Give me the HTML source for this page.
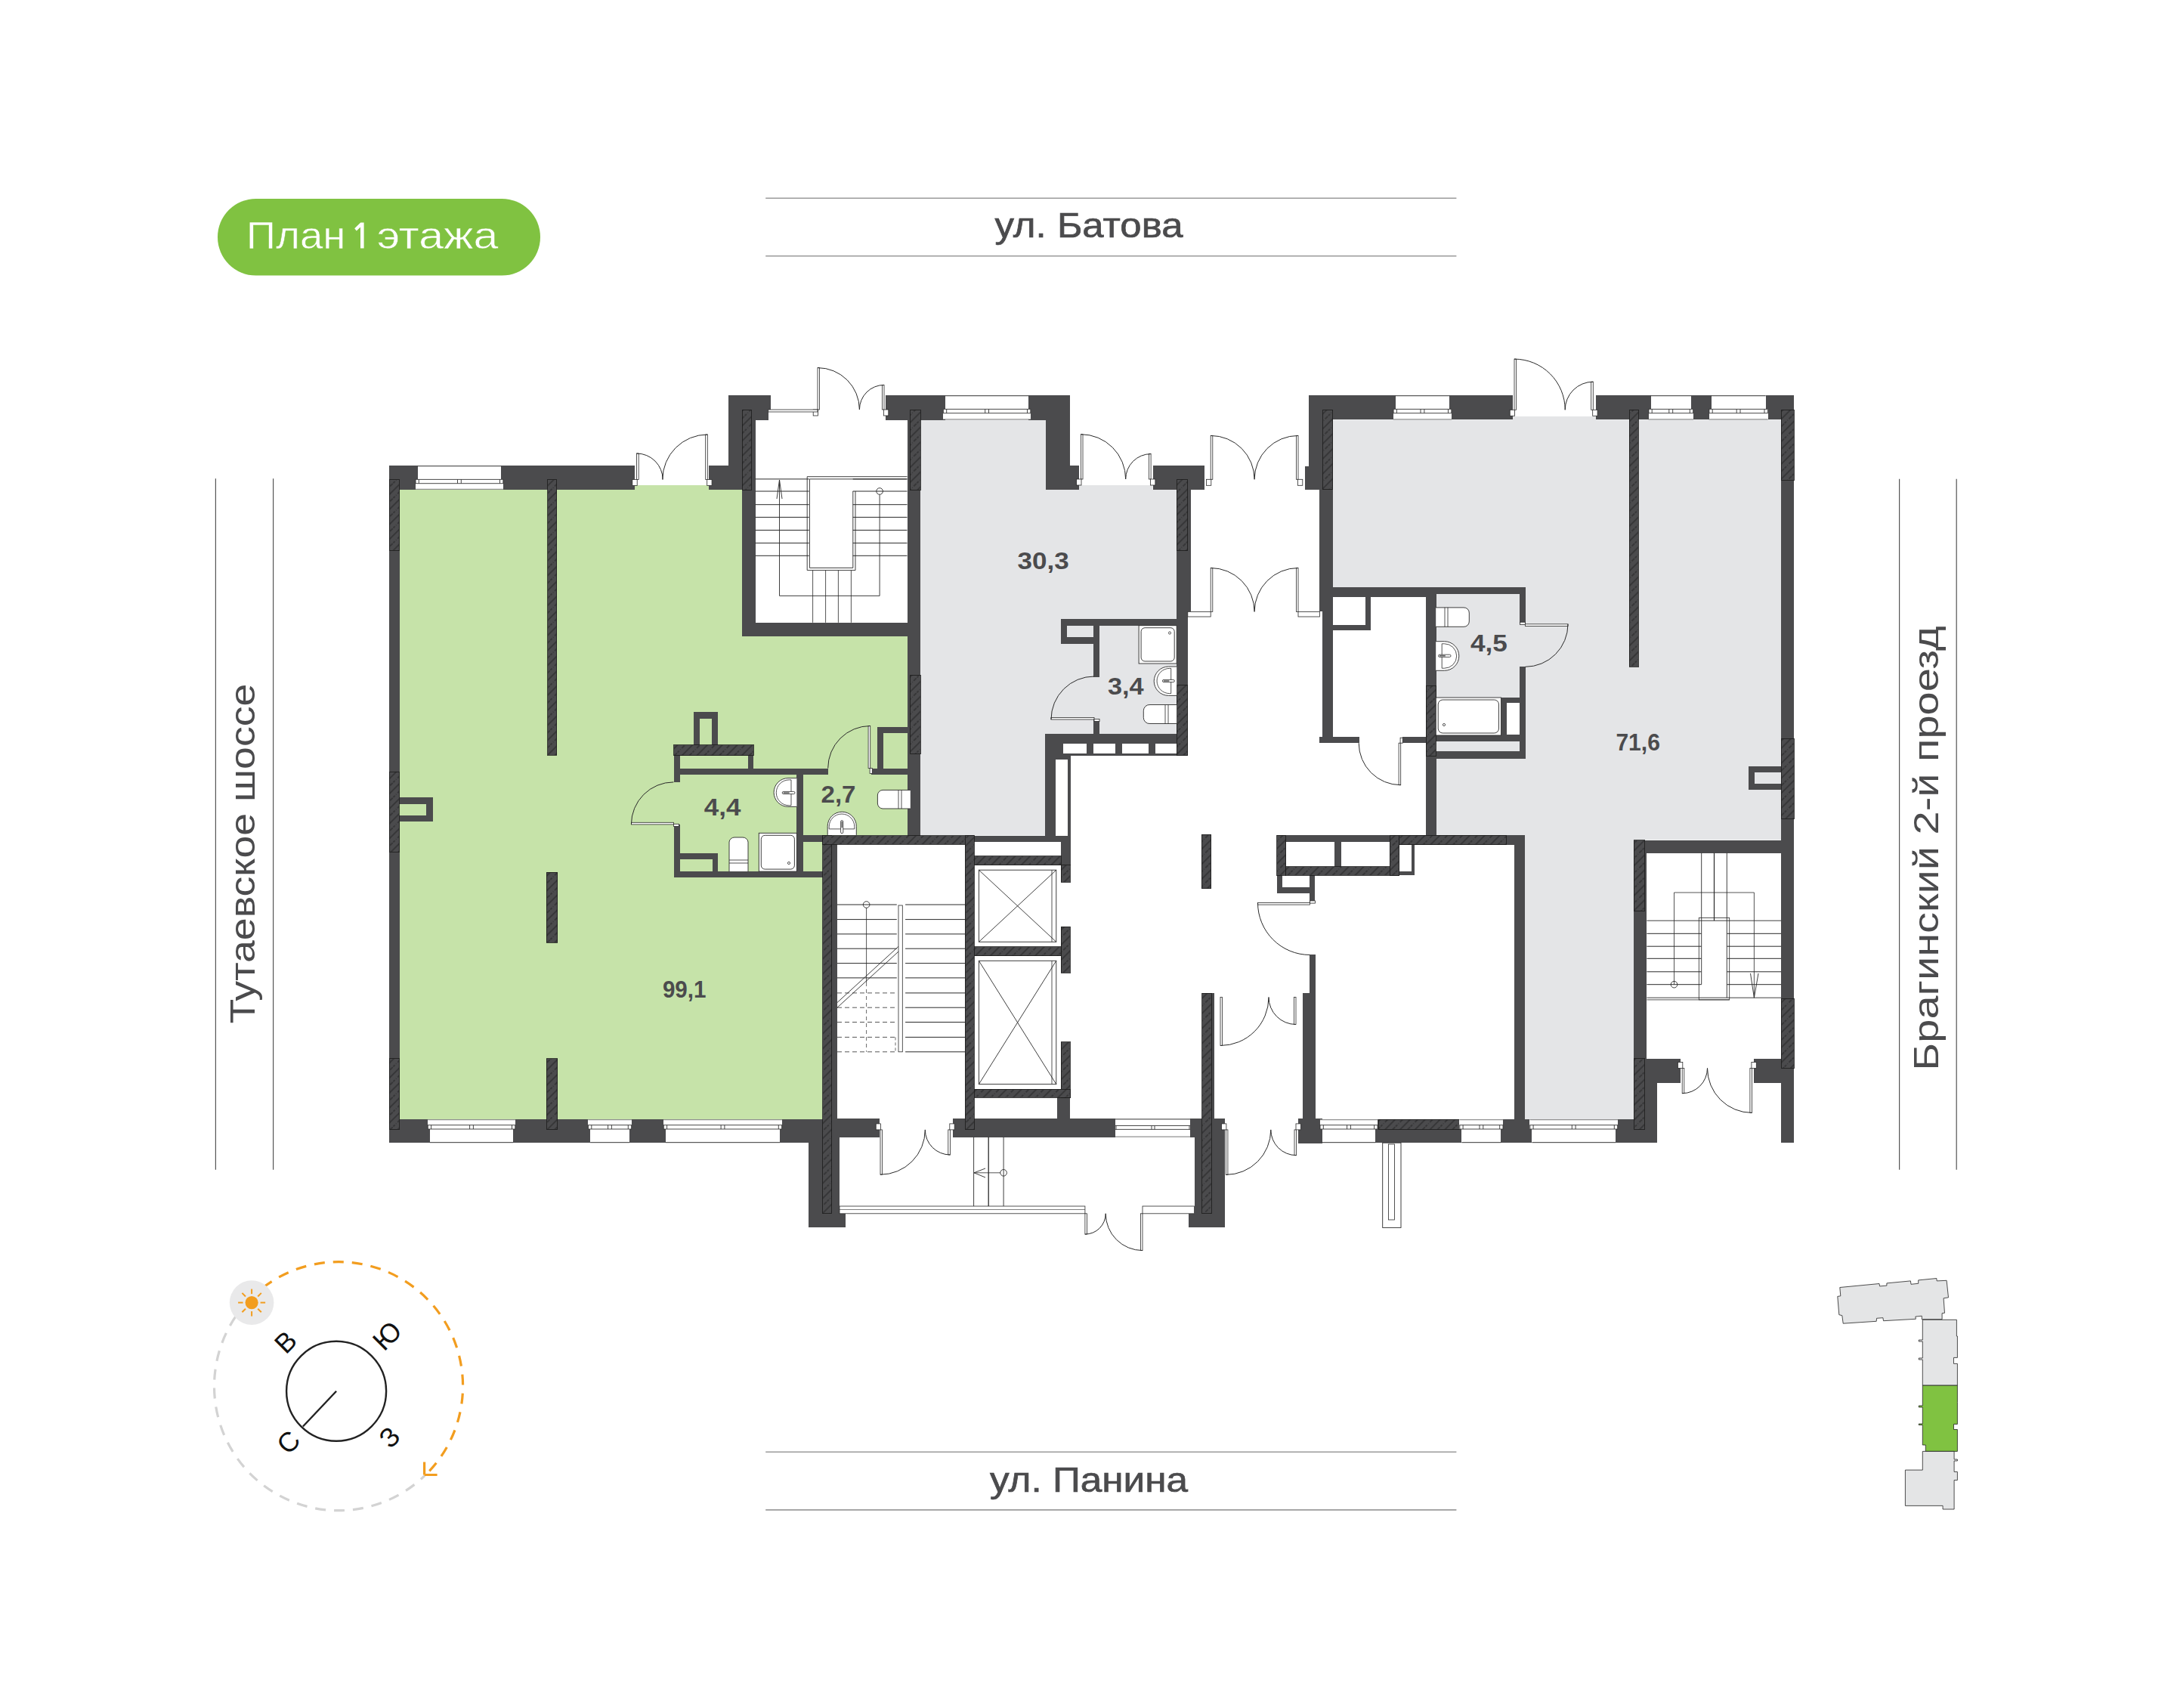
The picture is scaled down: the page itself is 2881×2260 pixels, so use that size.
<!DOCTYPE html>
<html><head><meta charset="utf-8"><title>План 1 этажа</title>
<style>html,body{margin:0;padding:0;background:#fff;}body{width:2881px;height:2260px;overflow:hidden;font-family:"Liberation Sans",sans-serif;}svg{display:block;}</style>
</head><body>
<svg width="2881" height="2260" viewBox="0 0 2881 2260">
<defs><pattern id="h" width="14" height="14" patternUnits="userSpaceOnUse" patternTransform="rotate(45)"><rect width="14" height="14" fill="#4b4b4d"/><line x1="1" y1="0" x2="1" y2="14" stroke="#181818" stroke-width="0.8"/><line x1="8" y1="1" x2="8" y2="14" stroke="#181818" stroke-width="0.8" stroke-dasharray="5,2,0.8,2"/></pattern></defs>
<rect width="2881" height="2260" fill="#fff"/>
<polygon points="528.4,648 840,648 840,642 938,642 938,648 982.4,648 982.4,841.7 1204.6,841.7 1204.6,1105.5 1088.6,1105.5 1088.6,1481.2 528.4,1481.2" fill="#c6e3a9"/>
<polygon points="1218,555.6 1384,555.6 1384,648 1428,648 1428,642 1525.5,642 1525.5,648 1557.2,648 1557.2,971 1383.3,971 1383.3,1105.5 1218,1105.5" fill="#e4e5e7"/>
<polygon points="1763.6,555.2 2001.7,555.2 2001.7,551 2112.2,551 2112.2,555.2 2357.4,555.2 2357.4,1111.6 2162,1111.6 2162,1481 2017.8,1481 2017.8,1105.3 1900.5,1105.3 1900.5,777 1763.6,777" fill="#e4e5e7"/>
<rect x="515" y="616" width="37.6" height="32" fill="#4b4b4d" shape-rendering="crispEdges"/>
<rect x="663.2" y="616" width="177.2" height="32" fill="#4b4b4d" shape-rendering="crispEdges"/>
<rect x="515" y="616" width="14" height="896.4" fill="#4b4b4d" shape-rendering="crispEdges"/>
<rect x="938.3" y="616" width="44.1" height="32" fill="#4b4b4d" shape-rendering="crispEdges"/>
<rect x="963.9" y="523" width="18.5" height="125" fill="#4b4b4d" shape-rendering="crispEdges"/>
<rect x="963.9" y="523" width="56.5" height="19" fill="#4b4b4d" shape-rendering="crispEdges"/>
<rect x="963.9" y="542" width="52.9" height="13.6" fill="#4b4b4d" shape-rendering="crispEdges"/>
<rect x="982.4" y="542" width="17.1" height="299.7" fill="#4b4b4d" shape-rendering="crispEdges"/>
<rect x="982.4" y="823.8" width="235.6" height="17.9" fill="#4b4b4d" shape-rendering="crispEdges"/>
<rect x="1201" y="542" width="17" height="563.5" fill="#4b4b4d" shape-rendering="crispEdges"/>
<rect x="1172.2" y="523" width="78.8" height="32.6" fill="#4b4b4d" shape-rendering="crispEdges"/>
<rect x="1361.2" y="523" width="55" height="32.6" fill="#4b4b4d" shape-rendering="crispEdges"/>
<rect x="1384" y="523" width="32.2" height="125" fill="#4b4b4d" shape-rendering="crispEdges"/>
<rect x="1416.2" y="616.2" width="11.8" height="31.8" fill="#4b4b4d" shape-rendering="crispEdges"/>
<rect x="1525.5" y="616.2" width="68.6" height="31.8" fill="#4b4b4d" shape-rendering="crispEdges"/>
<rect x="1557.2" y="616.2" width="14.6" height="383.8" fill="#4b4b4d" shape-rendering="crispEdges"/>
<rect x="1571" y="648" width="4.5" height="161.4" fill="#4b4b4d" shape-rendering="crispEdges"/>
<rect x="1383.3" y="971" width="188.5" height="29" fill="#4b4b4d" shape-rendering="crispEdges"/>
<rect x="1383.3" y="971" width="33.7" height="134.5" fill="#4b4b4d" shape-rendering="crispEdges"/>
<rect x="1406.8" y="983.8" width="31.2" height="12.9" fill="#fff" shape-rendering="crispEdges"/>
<rect x="1446.7" y="983.8" width="29.3" height="12.9" fill="#fff" shape-rendering="crispEdges"/>
<rect x="1484.7" y="983.8" width="34.8" height="12.9" fill="#fff" shape-rendering="crispEdges"/>
<rect x="1528.8" y="983.8" width="28.3" height="12.9" fill="#fff" shape-rendering="crispEdges"/>
<rect x="1397.1" y="1004.7" width="16.1" height="100.8" fill="#fff" shape-rendering="crispEdges"/>
<rect x="1404.2" y="819.3" width="153" height="8.4" fill="#4b4b4d" shape-rendering="crispEdges"/>
<rect x="1404.2" y="819.3" width="51.2" height="32.4" fill="#4b4b4d" shape-rendering="crispEdges"/>
<rect x="1412.3" y="827.7" width="35" height="15.3" fill="#e4e5e7" shape-rendering="crispEdges"/>
<rect x="1447.3" y="819.3" width="8.1" height="76.2" fill="#4b4b4d" shape-rendering="crispEdges"/>
<rect x="1447.3" y="952.1" width="8.1" height="18.9" fill="#4b4b4d" shape-rendering="crispEdges"/>
<rect x="918.3" y="942.2" width="32.1" height="43.4" fill="#4b4b4d" shape-rendering="crispEdges"/>
<rect x="926.3" y="950.5" width="16.1" height="35.1" fill="#c6e3a9" shape-rendering="crispEdges"/>
<rect x="891.6" y="999.6" width="8" height="35.4" fill="#4b4b4d" shape-rendering="crispEdges"/>
<rect x="989.6" y="999.6" width="7.8" height="16.9" fill="#4b4b4d" shape-rendering="crispEdges"/>
<rect x="891.6" y="1016.5" width="204.6" height="8" fill="#4b4b4d" shape-rendering="crispEdges"/>
<rect x="1153.3" y="1016.5" width="51.5" height="8" fill="#4b4b4d" shape-rendering="crispEdges"/>
<rect x="1161.4" y="962.1" width="7.2" height="62.4" fill="#4b4b4d" shape-rendering="crispEdges"/>
<rect x="1161.4" y="962.1" width="43.4" height="7.9" fill="#4b4b4d" shape-rendering="crispEdges"/>
<rect x="1054.4" y="1024.5" width="8.1" height="136.7" fill="#4b4b4d" shape-rendering="crispEdges"/>
<rect x="891.6" y="1091" width="8" height="70.2" fill="#4b4b4d" shape-rendering="crispEdges"/>
<rect x="891.6" y="1153.1" width="197.4" height="8.1" fill="#4b4b4d" shape-rendering="crispEdges"/>
<rect x="891.6" y="1129" width="58.8" height="8" fill="#4b4b4d" shape-rendering="crispEdges"/>
<rect x="942.7" y="1129" width="7.7" height="32.2" fill="#4b4b4d" shape-rendering="crispEdges"/>
<rect x="1062.5" y="1104.9" width="26.5" height="8.8" fill="#4b4b4d" shape-rendering="crispEdges"/>
<rect x="528.4" y="1055" width="44.1" height="31.7" fill="#4b4b4d" shape-rendering="crispEdges"/>
<rect x="528.4" y="1063.8" width="35.8" height="14.7" fill="#c6e3a9" shape-rendering="crispEdges"/>
<rect x="515" y="1481.2" width="573.6" height="31.2" fill="#4b4b4d" shape-rendering="crispEdges"/>
<rect x="1070.3" y="1481" width="40.7" height="143.4" fill="#4b4b4d" shape-rendering="crispEdges"/>
<rect x="1088.6" y="1105.5" width="19.4" height="375.5" fill="#4b4b4d" shape-rendering="crispEdges"/>
<rect x="1288.3" y="1105.5" width="128.7" height="8.7" fill="#4b4b4d" shape-rendering="crispEdges"/>
<rect x="1289" y="1114.2" width="119" height="18.7" fill="#fff" shape-rendering="crispEdges"/>
<rect x="1404.2" y="1105.5" width="12.8" height="39.3" fill="#4b4b4d" shape-rendering="crispEdges"/>
<rect x="1404.2" y="1167.3" width="12.2" height="59" fill="#fff" shape-rendering="crispEdges"/>
<rect x="1404.2" y="1287.4" width="12.2" height="91.5" fill="#fff" shape-rendering="crispEdges"/>
<rect x="1399.4" y="1452.3" width="17" height="29" fill="#4b4b4d" shape-rendering="crispEdges"/>
<rect x="1108" y="1480.4" width="56" height="24.1" fill="#4b4b4d" shape-rendering="crispEdges"/>
<rect x="1260.6" y="1480.4" width="215.4" height="24.1" fill="#4b4b4d" shape-rendering="crispEdges"/>
<rect x="1575" y="1480.4" width="45.7" height="24.1" fill="#4b4b4d" shape-rendering="crispEdges"/>
<rect x="1580.5" y="1480.4" width="40.2" height="144" fill="#4b4b4d" shape-rendering="crispEdges"/>
<rect x="1572.5" y="1605.8" width="48.2" height="18.6" fill="#4b4b4d" shape-rendering="crispEdges"/>
<rect x="1070.3" y="1605.8" width="48.8" height="18.6" fill="#4b4b4d" shape-rendering="crispEdges"/>
<rect x="1590.5" y="1314" width="16.2" height="310.4" fill="#4b4b4d" shape-rendering="crispEdges"/>
<rect x="1724.6" y="1314" width="16" height="166.3" fill="#4b4b4d" shape-rendering="crispEdges"/>
<rect x="1733.5" y="1263.4" width="7.1" height="50.6" fill="#4b4b4d" shape-rendering="crispEdges"/>
<rect x="1718" y="1480.3" width="31.5" height="32.2" fill="#4b4b4d" shape-rendering="crispEdges"/>
<rect x="1689.5" y="1105.3" width="328.3" height="12.2" fill="#4b4b4d" shape-rendering="crispEdges"/>
<rect x="1689.5" y="1105.3" width="182.9" height="52.8" fill="#4b4b4d" shape-rendering="crispEdges"/>
<rect x="1701.6" y="1113.5" width="64.6" height="33.2" fill="#fff" shape-rendering="crispEdges"/>
<rect x="1774.7" y="1113.5" width="64.6" height="33.2" fill="#fff" shape-rendering="crispEdges"/>
<rect x="1851.8" y="1117.5" width="15.9" height="35.8" fill="#fff" shape-rendering="crispEdges"/>
<rect x="1689.5" y="1158" width="50.9" height="23.7" fill="#4b4b4d" shape-rendering="crispEdges"/>
<rect x="1697.2" y="1158" width="35.8" height="16.3" fill="#fff" shape-rendering="crispEdges"/>
<rect x="1733" y="1181.7" width="7.4" height="12.3" fill="#4b4b4d" shape-rendering="crispEdges"/>
<rect x="1733" y="1263" width="7.4" height="51" fill="#4b4b4d" shape-rendering="crispEdges"/>
<rect x="1723.8" y="1314" width="16.6" height="167" fill="#4b4b4d" shape-rendering="crispEdges"/>
<rect x="2004.2" y="1105.3" width="13.6" height="375.7" fill="#4b4b4d" shape-rendering="crispEdges"/>
<rect x="1719" y="1481" width="474.4" height="31.2" fill="#4b4b4d" shape-rendering="crispEdges"/>
<rect x="1887.2" y="777" width="13.7" height="340.5" fill="#4b4b4d" shape-rendering="crispEdges"/>
<rect x="1731.6" y="523.2" width="642.2" height="32" fill="#4b4b4d" shape-rendering="crispEdges"/>
<rect x="2001.7" y="523.2" width="110.5" height="28.1" fill="#fff" shape-rendering="crispEdges"/>
<rect x="2001.7" y="551.3" width="110.5" height="4" fill="#e4e5e7" shape-rendering="crispEdges"/>
<rect x="1726.5" y="616.5" width="19.9" height="31.5" fill="#4b4b4d" shape-rendering="crispEdges"/>
<rect x="1731.6" y="523.2" width="14.8" height="124.8" fill="#4b4b4d" shape-rendering="crispEdges"/>
<rect x="1746.4" y="542" width="17.2" height="267.4" fill="#4b4b4d" shape-rendering="crispEdges"/>
<rect x="1749.6" y="809.4" width="14" height="173.6" fill="#4b4b4d" shape-rendering="crispEdges"/>
<rect x="2357.4" y="523.2" width="16.6" height="989" fill="#4b4b4d" shape-rendering="crispEdges"/>
<rect x="1746.4" y="777" width="272.1" height="8.5" fill="#4b4b4d" shape-rendering="crispEdges"/>
<rect x="1746.4" y="777" width="153.8" height="13.2" fill="#4b4b4d" shape-rendering="crispEdges"/>
<rect x="1763.6" y="785.5" width="50.7" height="48.8" fill="#4b4b4d" shape-rendering="crispEdges"/>
<rect x="1763.6" y="790.2" width="42.9" height="36.3" fill="#fff" shape-rendering="crispEdges"/>
<rect x="1746.4" y="975" width="52.3" height="8" fill="#4b4b4d" shape-rendering="crispEdges"/>
<rect x="1855.7" y="975" width="32" height="8" fill="#4b4b4d" shape-rendering="crispEdges"/>
<rect x="2010.7" y="777" width="7.8" height="47.6" fill="#4b4b4d" shape-rendering="crispEdges"/>
<rect x="2010.7" y="882" width="7.8" height="122.2" fill="#4b4b4d" shape-rendering="crispEdges"/>
<rect x="1900.2" y="973" width="110.5" height="7.8" fill="#4b4b4d" shape-rendering="crispEdges"/>
<rect x="1900.2" y="980.8" width="110.5" height="13.6" fill="#e4e5e7" shape-rendering="crispEdges"/>
<rect x="1900.2" y="994.4" width="118.3" height="9.8" fill="#4b4b4d" shape-rendering="crispEdges"/>
<rect x="1986.5" y="923" width="24.2" height="50" fill="#4b4b4d" shape-rendering="crispEdges"/>
<rect x="1994.3" y="930" width="16.4" height="41.8" fill="#fff" shape-rendering="crispEdges"/>
<rect x="2314" y="1014" width="43.4" height="31.2" fill="#4b4b4d" shape-rendering="crispEdges"/>
<rect x="2322" y="1021.8" width="35.4" height="15.6" fill="#e4e5e7" shape-rendering="crispEdges"/>
<rect x="2162" y="1111.6" width="17.4" height="400.6" fill="#4b4b4d" shape-rendering="crispEdges"/>
<rect x="2162" y="1111.6" width="195.2" height="17" fill="#4b4b4d" shape-rendering="crispEdges"/>
<rect x="2162" y="1400.5" width="61.7" height="32.1" fill="#4b4b4d" shape-rendering="crispEdges"/>
<rect x="2162" y="1432.6" width="31.4" height="79.6" fill="#4b4b4d" shape-rendering="crispEdges"/>
<rect x="2321.4" y="1400.5" width="35.8" height="32.1" fill="#4b4b4d" shape-rendering="crispEdges"/>
<rect x="515" y="634.5" width="13.4" height="93.5" fill="url(#h)" shape-rendering="crispEdges" stroke="#1a1a1a" stroke-width="0.8"/>
<rect x="515" y="1021.4" width="13.4" height="105.8" fill="url(#h)" shape-rendering="crispEdges" stroke="#1a1a1a" stroke-width="0.8"/>
<rect x="515" y="1400.5" width="13.4" height="93.7" fill="url(#h)" shape-rendering="crispEdges" stroke="#1a1a1a" stroke-width="0.8"/>
<rect x="982.4" y="542" width="11.6" height="106" fill="url(#h)" shape-rendering="crispEdges" stroke="#1a1a1a" stroke-width="0.8"/>
<rect x="1204.4" y="542" width="13.6" height="106" fill="url(#h)" shape-rendering="crispEdges" stroke="#1a1a1a" stroke-width="0.8"/>
<rect x="1204.4" y="893" width="13.6" height="104.7" fill="url(#h)" shape-rendering="crispEdges" stroke="#1a1a1a" stroke-width="0.8"/>
<rect x="1557.2" y="634.3" width="14.6" height="94.3" fill="url(#h)" shape-rendering="crispEdges" stroke="#1a1a1a" stroke-width="0.8"/>
<rect x="1557.2" y="906.4" width="14.6" height="93" fill="url(#h)" shape-rendering="crispEdges" stroke="#1a1a1a" stroke-width="0.8"/>
<rect x="891.6" y="985.6" width="105.8" height="14" fill="url(#h)" shape-rendering="crispEdges" stroke="#1a1a1a" stroke-width="0.8"/>
<rect x="724.6" y="634.5" width="11.9" height="364.8" fill="url(#h)" shape-rendering="crispEdges" stroke="#1a1a1a" stroke-width="0.8"/>
<rect x="723.3" y="1154.3" width="14.3" height="93.1" fill="url(#h)" shape-rendering="crispEdges" stroke="#1a1a1a" stroke-width="0.8"/>
<rect x="723.3" y="1400.5" width="14.3" height="93.7" fill="url(#h)" shape-rendering="crispEdges" stroke="#1a1a1a" stroke-width="0.8"/>
<rect x="1088.6" y="1105.5" width="11.9" height="500.3" fill="url(#h)" shape-rendering="crispEdges" stroke="#1a1a1a" stroke-width="0.8"/>
<rect x="1088.6" y="1105.5" width="199.7" height="11.9" fill="url(#h)" shape-rendering="crispEdges" stroke="#1a1a1a" stroke-width="0.8"/>
<rect x="1277" y="1105.5" width="12" height="388.5" fill="url(#h)" shape-rendering="crispEdges" stroke="#1a1a1a" stroke-width="0.8"/>
<rect x="1289" y="1132.9" width="115.2" height="11.9" fill="url(#h)" shape-rendering="crispEdges" stroke="#1a1a1a" stroke-width="0.8"/>
<rect x="1404.2" y="1144.8" width="12.2" height="22.5" fill="url(#h)" shape-rendering="crispEdges" stroke="#1a1a1a" stroke-width="0.8"/>
<rect x="1404.2" y="1226.3" width="12.2" height="61.1" fill="url(#h)" shape-rendering="crispEdges" stroke="#1a1a1a" stroke-width="0.8"/>
<rect x="1404.2" y="1378.9" width="12.2" height="73.4" fill="url(#h)" shape-rendering="crispEdges" stroke="#1a1a1a" stroke-width="0.8"/>
<rect x="1289" y="1252.7" width="115.2" height="12.2" fill="url(#h)" shape-rendering="crispEdges" stroke="#1a1a1a" stroke-width="0.8"/>
<rect x="1289" y="1441" width="127.4" height="11.3" fill="url(#h)" shape-rendering="crispEdges" stroke="#1a1a1a" stroke-width="0.8"/>
<rect x="1590.5" y="1314" width="12.5" height="291.8" fill="url(#h)" shape-rendering="crispEdges" stroke="#1a1a1a" stroke-width="0.8"/>
<rect x="1590.3" y="1104.3" width="12.4" height="71.4" fill="url(#h)" shape-rendering="crispEdges" stroke="#1a1a1a" stroke-width="0.8"/>
<rect x="1689.5" y="1105.3" width="12.1" height="52.8" fill="url(#h)" shape-rendering="crispEdges" stroke="#1a1a1a" stroke-width="0.8"/>
<rect x="1701.6" y="1146.7" width="150.2" height="11.4" fill="url(#h)" shape-rendering="crispEdges" stroke="#1a1a1a" stroke-width="0.8"/>
<rect x="1839.3" y="1105.3" width="12.5" height="52.8" fill="url(#h)" shape-rendering="crispEdges" stroke="#1a1a1a" stroke-width="0.8"/>
<rect x="1851.8" y="1105.3" width="141.2" height="12.2" fill="url(#h)" shape-rendering="crispEdges" stroke="#1a1a1a" stroke-width="0.8"/>
<rect x="1824" y="1481" width="107.5" height="13.5" fill="url(#h)" shape-rendering="crispEdges" stroke="#1a1a1a" stroke-width="0.8"/>
<rect x="1750" y="542.3" width="13.6" height="105.4" fill="url(#h)" shape-rendering="crispEdges" stroke="#1a1a1a" stroke-width="0.8"/>
<rect x="2357.4" y="542.3" width="16.6" height="92.7" fill="url(#h)" shape-rendering="crispEdges" stroke="#1a1a1a" stroke-width="0.8"/>
<rect x="2357.4" y="977" width="16.6" height="106" fill="url(#h)" shape-rendering="crispEdges" stroke="#1a1a1a" stroke-width="0.8"/>
<rect x="2357.4" y="1321" width="16.6" height="92.4" fill="url(#h)" shape-rendering="crispEdges" stroke="#1a1a1a" stroke-width="0.8"/>
<rect x="2156" y="542.3" width="12" height="339.7" fill="url(#h)" shape-rendering="crispEdges" stroke="#1a1a1a" stroke-width="0.8"/>
<rect x="1887.7" y="907" width="12.5" height="93" fill="url(#h)" shape-rendering="crispEdges" stroke="#1a1a1a" stroke-width="0.8"/>
<rect x="2162" y="1111.6" width="14" height="93.4" fill="url(#h)" shape-rendering="crispEdges" stroke="#1a1a1a" stroke-width="0.8"/>
<rect x="2162" y="1400.5" width="14" height="94" fill="url(#h)" shape-rendering="crispEdges" stroke="#1a1a1a" stroke-width="0.8"/>
<rect x="552.6" y="616.2" width="110.6" height="18.2" fill="#fff" shape-rendering="crispEdges"/>
<rect x="549.6" y="634.4" width="116.6" height="13.4" fill="#fff" shape-rendering="crispEdges"/>
<line x1="552.6" y1="616.7" x2="663.2" y2="616.7" stroke="#333" stroke-width="1"/>
<line x1="549.6" y1="634.4" x2="666.2" y2="634.4" stroke="#333" stroke-width="0.9"/>
<line x1="549.6" y1="639.7" x2="666.2" y2="639.7" stroke="#333" stroke-width="0.9"/>
<line x1="549.6" y1="647.3" x2="666.2" y2="647.3" stroke="#666" stroke-width="0.9"/>
<line x1="550" y1="634.4" x2="550" y2="639.7" stroke="#333" stroke-width="0.9"/>
<line x1="554.3" y1="634.4" x2="554.3" y2="639.7" stroke="#333" stroke-width="0.9"/>
<line x1="605.5" y1="634.4" x2="605.5" y2="639.7" stroke="#333" stroke-width="0.9"/>
<line x1="610.3" y1="634.4" x2="610.3" y2="639.7" stroke="#333" stroke-width="0.9"/>
<line x1="661.5" y1="634.4" x2="661.5" y2="639.7" stroke="#333" stroke-width="0.9"/>
<line x1="665.8" y1="634.4" x2="665.8" y2="639.7" stroke="#333" stroke-width="0.9"/>
<rect x="1251" y="523.2" width="110.2" height="18.2" fill="#fff" shape-rendering="crispEdges"/>
<rect x="1248" y="541.4" width="116.2" height="14" fill="#fff" shape-rendering="crispEdges"/>
<line x1="1251" y1="523.7" x2="1361.2" y2="523.7" stroke="#333" stroke-width="1"/>
<line x1="1248" y1="541.4" x2="1364.2" y2="541.4" stroke="#333" stroke-width="0.9"/>
<line x1="1248" y1="546.7" x2="1364.2" y2="546.7" stroke="#333" stroke-width="0.9"/>
<line x1="1248" y1="554.9" x2="1364.2" y2="554.9" stroke="#666" stroke-width="0.9"/>
<line x1="1248.4" y1="541.4" x2="1248.4" y2="546.7" stroke="#333" stroke-width="0.9"/>
<line x1="1252.7" y1="541.4" x2="1252.7" y2="546.7" stroke="#333" stroke-width="0.9"/>
<line x1="1303.7" y1="541.4" x2="1303.7" y2="546.7" stroke="#333" stroke-width="0.9"/>
<line x1="1308.5" y1="541.4" x2="1308.5" y2="546.7" stroke="#333" stroke-width="0.9"/>
<line x1="1359.5" y1="541.4" x2="1359.5" y2="546.7" stroke="#333" stroke-width="0.9"/>
<line x1="1363.8" y1="541.4" x2="1363.8" y2="546.7" stroke="#333" stroke-width="0.9"/>
<rect x="1846.7" y="523.2" width="71.5" height="18.2" fill="#fff" shape-rendering="crispEdges"/>
<rect x="1843.7" y="541.4" width="77.5" height="14" fill="#fff" shape-rendering="crispEdges"/>
<line x1="1846.7" y1="523.7" x2="1918.2" y2="523.7" stroke="#333" stroke-width="1"/>
<line x1="1843.7" y1="541.4" x2="1921.2" y2="541.4" stroke="#333" stroke-width="0.9"/>
<line x1="1843.7" y1="546.7" x2="1921.2" y2="546.7" stroke="#333" stroke-width="0.9"/>
<line x1="1843.7" y1="554.9" x2="1921.2" y2="554.9" stroke="#666" stroke-width="0.9"/>
<line x1="1844.1" y1="541.4" x2="1844.1" y2="546.7" stroke="#333" stroke-width="0.9"/>
<line x1="1848.4" y1="541.4" x2="1848.4" y2="546.7" stroke="#333" stroke-width="0.9"/>
<line x1="1880" y1="541.4" x2="1880" y2="546.7" stroke="#333" stroke-width="0.9"/>
<line x1="1884.9" y1="541.4" x2="1884.9" y2="546.7" stroke="#333" stroke-width="0.9"/>
<line x1="1916.5" y1="541.4" x2="1916.5" y2="546.7" stroke="#333" stroke-width="0.9"/>
<line x1="1920.8" y1="541.4" x2="1920.8" y2="546.7" stroke="#333" stroke-width="0.9"/>
<rect x="2184.5" y="523.2" width="53.5" height="18.2" fill="#fff" shape-rendering="crispEdges"/>
<rect x="2181.5" y="541.4" width="59.5" height="14" fill="#fff" shape-rendering="crispEdges"/>
<line x1="2184.5" y1="523.7" x2="2238" y2="523.7" stroke="#333" stroke-width="1"/>
<line x1="2181.5" y1="541.4" x2="2241" y2="541.4" stroke="#333" stroke-width="0.9"/>
<line x1="2181.5" y1="546.7" x2="2241" y2="546.7" stroke="#333" stroke-width="0.9"/>
<line x1="2181.5" y1="554.9" x2="2241" y2="554.9" stroke="#666" stroke-width="0.9"/>
<line x1="2181.9" y1="541.4" x2="2181.9" y2="546.7" stroke="#333" stroke-width="0.9"/>
<line x1="2186.2" y1="541.4" x2="2186.2" y2="546.7" stroke="#333" stroke-width="0.9"/>
<line x1="2208.8" y1="541.4" x2="2208.8" y2="546.7" stroke="#333" stroke-width="0.9"/>
<line x1="2213.7" y1="541.4" x2="2213.7" y2="546.7" stroke="#333" stroke-width="0.9"/>
<line x1="2236.3" y1="541.4" x2="2236.3" y2="546.7" stroke="#333" stroke-width="0.9"/>
<line x1="2240.6" y1="541.4" x2="2240.6" y2="546.7" stroke="#333" stroke-width="0.9"/>
<rect x="2264.5" y="523.2" width="72.2" height="18.2" fill="#fff" shape-rendering="crispEdges"/>
<rect x="2261.5" y="541.4" width="78.2" height="14" fill="#fff" shape-rendering="crispEdges"/>
<line x1="2264.5" y1="523.7" x2="2336.7" y2="523.7" stroke="#333" stroke-width="1"/>
<line x1="2261.5" y1="541.4" x2="2339.7" y2="541.4" stroke="#333" stroke-width="0.9"/>
<line x1="2261.5" y1="546.7" x2="2339.7" y2="546.7" stroke="#333" stroke-width="0.9"/>
<line x1="2261.5" y1="554.9" x2="2339.7" y2="554.9" stroke="#666" stroke-width="0.9"/>
<line x1="2261.9" y1="541.4" x2="2261.9" y2="546.7" stroke="#333" stroke-width="0.9"/>
<line x1="2266.2" y1="541.4" x2="2266.2" y2="546.7" stroke="#333" stroke-width="0.9"/>
<line x1="2298.2" y1="541.4" x2="2298.2" y2="546.7" stroke="#333" stroke-width="0.9"/>
<line x1="2303" y1="541.4" x2="2303" y2="546.7" stroke="#333" stroke-width="0.9"/>
<line x1="2335" y1="541.4" x2="2335" y2="546.7" stroke="#333" stroke-width="0.9"/>
<line x1="2339.3" y1="541.4" x2="2339.3" y2="546.7" stroke="#333" stroke-width="0.9"/>
<rect x="568.9" y="1494" width="110.3" height="18.2" fill="#fff" shape-rendering="crispEdges"/>
<rect x="565.9" y="1481.2" width="116.3" height="12.8" fill="#fff" shape-rendering="crispEdges"/>
<line x1="568.9" y1="1511.7" x2="679.2" y2="1511.7" stroke="#333" stroke-width="1"/>
<line x1="565.9" y1="1494" x2="682.2" y2="1494" stroke="#333" stroke-width="0.9"/>
<line x1="565.9" y1="1488.7" x2="682.2" y2="1488.7" stroke="#333" stroke-width="0.9"/>
<line x1="565.9" y1="1481.7" x2="682.2" y2="1481.7" stroke="#666" stroke-width="0.9"/>
<line x1="566.3" y1="1494" x2="566.3" y2="1488.7" stroke="#333" stroke-width="0.9"/>
<line x1="570.6" y1="1494" x2="570.6" y2="1488.7" stroke="#333" stroke-width="0.9"/>
<line x1="621.6" y1="1494" x2="621.6" y2="1488.7" stroke="#333" stroke-width="0.9"/>
<line x1="626.4" y1="1494" x2="626.4" y2="1488.7" stroke="#333" stroke-width="0.9"/>
<line x1="677.5" y1="1494" x2="677.5" y2="1488.7" stroke="#333" stroke-width="0.9"/>
<line x1="681.8" y1="1494" x2="681.8" y2="1488.7" stroke="#333" stroke-width="0.9"/>
<rect x="781.1" y="1494" width="51.9" height="18.2" fill="#fff" shape-rendering="crispEdges"/>
<rect x="778.1" y="1481.2" width="57.9" height="12.8" fill="#fff" shape-rendering="crispEdges"/>
<line x1="781.1" y1="1511.7" x2="833" y2="1511.7" stroke="#333" stroke-width="1"/>
<line x1="778.1" y1="1494" x2="836" y2="1494" stroke="#333" stroke-width="0.9"/>
<line x1="778.1" y1="1488.7" x2="836" y2="1488.7" stroke="#333" stroke-width="0.9"/>
<line x1="778.1" y1="1481.7" x2="836" y2="1481.7" stroke="#666" stroke-width="0.9"/>
<line x1="778.5" y1="1494" x2="778.5" y2="1488.7" stroke="#333" stroke-width="0.9"/>
<line x1="782.8" y1="1494" x2="782.8" y2="1488.7" stroke="#333" stroke-width="0.9"/>
<line x1="804.6" y1="1494" x2="804.6" y2="1488.7" stroke="#333" stroke-width="0.9"/>
<line x1="809.4" y1="1494" x2="809.4" y2="1488.7" stroke="#333" stroke-width="0.9"/>
<line x1="831.3" y1="1494" x2="831.3" y2="1488.7" stroke="#333" stroke-width="0.9"/>
<line x1="835.6" y1="1494" x2="835.6" y2="1488.7" stroke="#333" stroke-width="0.9"/>
<rect x="880.9" y="1494" width="151.1" height="18.2" fill="#fff" shape-rendering="crispEdges"/>
<rect x="877.9" y="1481.2" width="157.1" height="12.8" fill="#fff" shape-rendering="crispEdges"/>
<line x1="880.9" y1="1511.7" x2="1032" y2="1511.7" stroke="#333" stroke-width="1"/>
<line x1="877.9" y1="1494" x2="1035" y2="1494" stroke="#333" stroke-width="0.9"/>
<line x1="877.9" y1="1488.7" x2="1035" y2="1488.7" stroke="#333" stroke-width="0.9"/>
<line x1="877.9" y1="1481.7" x2="1035" y2="1481.7" stroke="#666" stroke-width="0.9"/>
<line x1="878.3" y1="1494" x2="878.3" y2="1488.7" stroke="#333" stroke-width="0.9"/>
<line x1="882.6" y1="1494" x2="882.6" y2="1488.7" stroke="#333" stroke-width="0.9"/>
<line x1="954.1" y1="1494" x2="954.1" y2="1488.7" stroke="#333" stroke-width="0.9"/>
<line x1="958.9" y1="1494" x2="958.9" y2="1488.7" stroke="#333" stroke-width="0.9"/>
<line x1="1030.3" y1="1494" x2="1030.3" y2="1488.7" stroke="#333" stroke-width="0.9"/>
<line x1="1034.6" y1="1494" x2="1034.6" y2="1488.7" stroke="#333" stroke-width="0.9"/>
<rect x="1749.6" y="1494" width="70.8" height="18.2" fill="#fff" shape-rendering="crispEdges"/>
<rect x="1746.6" y="1481.2" width="76.8" height="12.8" fill="#fff" shape-rendering="crispEdges"/>
<line x1="1749.6" y1="1511.7" x2="1820.4" y2="1511.7" stroke="#333" stroke-width="1"/>
<line x1="1746.6" y1="1494" x2="1823.4" y2="1494" stroke="#333" stroke-width="0.9"/>
<line x1="1746.6" y1="1488.7" x2="1823.4" y2="1488.7" stroke="#333" stroke-width="0.9"/>
<line x1="1746.6" y1="1481.7" x2="1823.4" y2="1481.7" stroke="#666" stroke-width="0.9"/>
<line x1="1747" y1="1494" x2="1747" y2="1488.7" stroke="#333" stroke-width="0.9"/>
<line x1="1751.3" y1="1494" x2="1751.3" y2="1488.7" stroke="#333" stroke-width="0.9"/>
<line x1="1782.6" y1="1494" x2="1782.6" y2="1488.7" stroke="#333" stroke-width="0.9"/>
<line x1="1787.4" y1="1494" x2="1787.4" y2="1488.7" stroke="#333" stroke-width="0.9"/>
<line x1="1818.7" y1="1494" x2="1818.7" y2="1488.7" stroke="#333" stroke-width="0.9"/>
<line x1="1823" y1="1494" x2="1823" y2="1488.7" stroke="#333" stroke-width="0.9"/>
<rect x="1934.4" y="1494" width="52" height="18.2" fill="#fff" shape-rendering="crispEdges"/>
<rect x="1931.4" y="1481.2" width="58" height="12.8" fill="#fff" shape-rendering="crispEdges"/>
<line x1="1934.4" y1="1511.7" x2="1986.4" y2="1511.7" stroke="#333" stroke-width="1"/>
<line x1="1931.4" y1="1494" x2="1989.4" y2="1494" stroke="#333" stroke-width="0.9"/>
<line x1="1931.4" y1="1488.7" x2="1989.4" y2="1488.7" stroke="#333" stroke-width="0.9"/>
<line x1="1931.4" y1="1481.7" x2="1989.4" y2="1481.7" stroke="#666" stroke-width="0.9"/>
<line x1="1931.8" y1="1494" x2="1931.8" y2="1488.7" stroke="#333" stroke-width="0.9"/>
<line x1="1936.1" y1="1494" x2="1936.1" y2="1488.7" stroke="#333" stroke-width="0.9"/>
<line x1="1958" y1="1494" x2="1958" y2="1488.7" stroke="#333" stroke-width="0.9"/>
<line x1="1962.8" y1="1494" x2="1962.8" y2="1488.7" stroke="#333" stroke-width="0.9"/>
<line x1="1984.7" y1="1494" x2="1984.7" y2="1488.7" stroke="#333" stroke-width="0.9"/>
<line x1="1989" y1="1494" x2="1989" y2="1488.7" stroke="#333" stroke-width="0.9"/>
<rect x="2027.4" y="1494" width="110.6" height="18.2" fill="#fff" shape-rendering="crispEdges"/>
<rect x="2024.4" y="1481.2" width="116.6" height="12.8" fill="#fff" shape-rendering="crispEdges"/>
<line x1="2027.4" y1="1511.7" x2="2138" y2="1511.7" stroke="#333" stroke-width="1"/>
<line x1="2024.4" y1="1494" x2="2141" y2="1494" stroke="#333" stroke-width="0.9"/>
<line x1="2024.4" y1="1488.7" x2="2141" y2="1488.7" stroke="#333" stroke-width="0.9"/>
<line x1="2024.4" y1="1481.7" x2="2141" y2="1481.7" stroke="#666" stroke-width="0.9"/>
<line x1="2024.8" y1="1494" x2="2024.8" y2="1488.7" stroke="#333" stroke-width="0.9"/>
<line x1="2029.1" y1="1494" x2="2029.1" y2="1488.7" stroke="#333" stroke-width="0.9"/>
<line x1="2080.3" y1="1494" x2="2080.3" y2="1488.7" stroke="#333" stroke-width="0.9"/>
<line x1="2085.1" y1="1494" x2="2085.1" y2="1488.7" stroke="#333" stroke-width="0.9"/>
<line x1="2136.3" y1="1494" x2="2136.3" y2="1488.7" stroke="#333" stroke-width="0.9"/>
<line x1="2140.6" y1="1494" x2="2140.6" y2="1488.7" stroke="#333" stroke-width="0.9"/>
<rect x="1476" y="1480.4" width="99" height="24.1" fill="#fff" shape-rendering="crispEdges"/>
<line x1="1476" y1="1480.9" x2="1575" y2="1480.9" stroke="#333" stroke-width="1"/>
<line x1="1476" y1="1489.5" x2="1575" y2="1489.5" stroke="#333" stroke-width="0.9"/>
<line x1="1476" y1="1494.4" x2="1575" y2="1494.4" stroke="#333" stroke-width="0.9"/>
<line x1="1476" y1="1504.1" x2="1575" y2="1504.1" stroke="#666" stroke-width="0.9"/>
<line x1="1477" y1="1489.5" x2="1477" y2="1494.4" stroke="#333" stroke-width="0.9"/>
<line x1="1524" y1="1489.5" x2="1524" y2="1494.4" stroke="#333" stroke-width="0.9"/>
<line x1="1528" y1="1489.5" x2="1528" y2="1494.4" stroke="#333" stroke-width="0.9"/>
<line x1="1574" y1="1489.5" x2="1574" y2="1494.4" stroke="#333" stroke-width="0.9"/>
<rect x="842.6" y="600" width="2.6" height="34.5" fill="#fff" stroke="#2a2a2a" stroke-width="0.8"/>
<rect x="836.8" y="634.5" width="6.4" height="8" fill="#fff" stroke="#2a2a2a" stroke-width="0.8"/>
<path d="M842.6 600 A34.5 34.5 0 0 1 877.1 634.5" fill="none" stroke="#2a2a2a" stroke-width="1"/>
<rect x="933.7" y="575" width="2.6" height="59.5" fill="#fff" stroke="#2a2a2a" stroke-width="0.8"/>
<rect x="935.7" y="634.5" width="6.4" height="8" fill="#fff" stroke="#2a2a2a" stroke-width="0.8"/>
<path d="M936.3 575 A59.5 59.5 0 0 0 876.8 634.5" fill="none" stroke="#2a2a2a" stroke-width="1"/>
<rect x="1082" y="486.6" width="2.6" height="55.4" fill="#fff" stroke="#2a2a2a" stroke-width="0.8"/>
<rect x="1076.2" y="542" width="6.4" height="8" fill="#fff" stroke="#2a2a2a" stroke-width="0.8"/>
<path d="M1082 486.6 A55.4 55.4 0 0 1 1137.4 542" fill="none" stroke="#2a2a2a" stroke-width="1"/>
<rect x="1167.4" y="509.4" width="2.6" height="32.6" fill="#fff" stroke="#2a2a2a" stroke-width="0.8"/>
<rect x="1169.4" y="542" width="6.4" height="8" fill="#fff" stroke="#2a2a2a" stroke-width="0.8"/>
<path d="M1170 509.4 A32.6 32.6 0 0 0 1137.4 542" fill="none" stroke="#2a2a2a" stroke-width="1"/>
<rect x="1016.7" y="542" width="65.3" height="3" fill="#fff" stroke="#2a2a2a" stroke-width="0.8"/>
<rect x="1430.4" y="574.7" width="2.6" height="59.3" fill="#fff" stroke="#2a2a2a" stroke-width="0.8"/>
<rect x="1424.6" y="634" width="6.4" height="8" fill="#fff" stroke="#2a2a2a" stroke-width="0.8"/>
<path d="M1430.4 574.7 A59.3 59.3 0 0 1 1489.7 634" fill="none" stroke="#2a2a2a" stroke-width="1"/>
<rect x="1520.5" y="600.6" width="2.6" height="33.4" fill="#fff" stroke="#2a2a2a" stroke-width="0.8"/>
<rect x="1522.5" y="634" width="6.4" height="8" fill="#fff" stroke="#2a2a2a" stroke-width="0.8"/>
<path d="M1523.1 600.6 A33.4 33.4 0 0 0 1489.7 634" fill="none" stroke="#2a2a2a" stroke-width="1"/>
<rect x="1602.2" y="576.4" width="2.6" height="57.9" fill="#fff" stroke="#2a2a2a" stroke-width="0.8"/>
<rect x="1596.4" y="634.3" width="6.4" height="8" fill="#fff" stroke="#2a2a2a" stroke-width="0.8"/>
<path d="M1602.2 576.4 A57.9 57.9 0 0 1 1660.1 634.3" fill="none" stroke="#2a2a2a" stroke-width="1"/>
<rect x="1715.4" y="576.4" width="2.6" height="57.9" fill="#fff" stroke="#2a2a2a" stroke-width="0.8"/>
<rect x="1717.4" y="634.3" width="6.4" height="8" fill="#fff" stroke="#2a2a2a" stroke-width="0.8"/>
<path d="M1718 576.4 A57.9 57.9 0 0 0 1660.1 634.3" fill="none" stroke="#2a2a2a" stroke-width="1"/>
<rect x="1602.2" y="751.5" width="2.6" height="57.9" fill="#fff" stroke="#2a2a2a" stroke-width="0.8"/>
<path d="M1602.2 751.5 A57.9 57.9 0 0 1 1660.1 809.4" fill="none" stroke="#2a2a2a" stroke-width="1"/>
<rect x="1715.4" y="751.5" width="2.6" height="57.9" fill="#fff" stroke="#2a2a2a" stroke-width="0.8"/>
<path d="M1718 751.5 A57.9 57.9 0 0 0 1660.1 809.4" fill="none" stroke="#2a2a2a" stroke-width="1"/>
<rect x="1571.8" y="809.4" width="30.4" height="6.6" fill="#fff" stroke="#2a2a2a" stroke-width="0.8"/>
<rect x="1718" y="809.4" width="28.4" height="6.6" fill="#fff" stroke="#2a2a2a" stroke-width="0.8"/>
<rect x="2004" y="475.1" width="2.6" height="67.2" fill="#fff" stroke="#2a2a2a" stroke-width="0.8"/>
<rect x="1998.2" y="542.3" width="6.4" height="8" fill="#fff" stroke="#2a2a2a" stroke-width="0.8"/>
<path d="M2004 475.1 A67.2 67.2 0 0 1 2071.2 542.3" fill="none" stroke="#2a2a2a" stroke-width="1"/>
<rect x="2105.7" y="505.2" width="2.6" height="37.1" fill="#fff" stroke="#2a2a2a" stroke-width="0.8"/>
<rect x="2107.7" y="542.3" width="6.4" height="8" fill="#fff" stroke="#2a2a2a" stroke-width="0.8"/>
<path d="M2108.3 505.2 A37.1 37.1 0 0 0 2071.2 542.3" fill="none" stroke="#2a2a2a" stroke-width="1"/>
<rect x="2018.5" y="825.8" width="56.5" height="2.6" fill="#fff" stroke="#2a2a2a" stroke-width="0.8"/>
<rect x="2011.5" y="823.2" width="7" height="3.2" fill="#fff" stroke="#2a2a2a" stroke-width="0.8"/>
<path d="M2075 825.8 A56.5 56.5 0 0 1 2018.5 882.3" fill="none" stroke="#2a2a2a" stroke-width="1"/>
<rect x="1851.1" y="983.2" width="2.6" height="55.5" fill="#fff" stroke="#2a2a2a" stroke-width="0.8"/>
<rect x="1853.1" y="976.2" width="3.2" height="7" fill="#fff" stroke="#2a2a2a" stroke-width="0.8"/>
<path d="M1853.7 1038.7 A55.5 55.5 0 0 1 1798.2 983.2" fill="none" stroke="#2a2a2a" stroke-width="1"/>
<rect x="1391" y="949.4" width="57" height="2.6" fill="#fff" stroke="#2a2a2a" stroke-width="0.8"/>
<rect x="1448" y="951.4" width="7" height="3.2" fill="#fff" stroke="#2a2a2a" stroke-width="0.8"/>
<path d="M1391 952 A57 57 0 0 1 1448 895" fill="none" stroke="#2a2a2a" stroke-width="1"/>
<rect x="835.4" y="1088.3" width="56" height="2.6" fill="#fff" stroke="#2a2a2a" stroke-width="0.8"/>
<rect x="891.4" y="1090.3" width="7" height="3.2" fill="#fff" stroke="#2a2a2a" stroke-width="0.8"/>
<path d="M835.4 1090.9 A56 56 0 0 1 891.4 1034.9" fill="none" stroke="#2a2a2a" stroke-width="1"/>
<rect x="1149.1" y="960.5" width="2.6" height="56" fill="#fff" stroke="#2a2a2a" stroke-width="0.8"/>
<rect x="1151.1" y="1016.5" width="3.2" height="7" fill="#fff" stroke="#2a2a2a" stroke-width="0.8"/>
<path d="M1151.7 960.5 A56 56 0 0 0 1095.7 1016.5" fill="none" stroke="#2a2a2a" stroke-width="1"/>
<rect x="1664.5" y="1194.5" width="69" height="2.6" fill="#fff" stroke="#2a2a2a" stroke-width="0.8"/>
<rect x="1733.5" y="1191.9" width="7" height="3.2" fill="#fff" stroke="#2a2a2a" stroke-width="0.8"/>
<path d="M1664.5 1194.5 A69 69 0 0 0 1733.5 1263.5" fill="none" stroke="#2a2a2a" stroke-width="1"/>
<rect x="1615" y="1319.5" width="2.6" height="64" fill="#fff" stroke="#2a2a2a" stroke-width="0.8"/>
<path d="M1615 1383.5 A64 64 0 0 0 1679 1319.5" fill="none" stroke="#2a2a2a" stroke-width="1"/>
<rect x="1712.4" y="1319.5" width="2.6" height="36" fill="#fff" stroke="#2a2a2a" stroke-width="0.8"/>
<path d="M1715 1355.5 A36 36 0 0 1 1679 1319.5" fill="none" stroke="#2a2a2a" stroke-width="1"/>
<rect x="1622.3" y="1494.9" width="2.6" height="59.5" fill="#fff" stroke="#2a2a2a" stroke-width="0.8"/>
<rect x="1616.5" y="1486.9" width="6.4" height="8" fill="#fff" stroke="#2a2a2a" stroke-width="0.8"/>
<path d="M1622.3 1554.4 A59.5 59.5 0 0 0 1681.8 1494.9" fill="none" stroke="#2a2a2a" stroke-width="1"/>
<rect x="1713" y="1494.9" width="2.6" height="33.8" fill="#fff" stroke="#2a2a2a" stroke-width="0.8"/>
<rect x="1715" y="1486.9" width="6.4" height="8" fill="#fff" stroke="#2a2a2a" stroke-width="0.8"/>
<path d="M1715.6 1528.7 A33.8 33.8 0 0 1 1681.8 1494.9" fill="none" stroke="#2a2a2a" stroke-width="1"/>
<rect x="1165" y="1494.9" width="2.6" height="59.3" fill="#fff" stroke="#2a2a2a" stroke-width="0.8"/>
<rect x="1159.2" y="1486.9" width="6.4" height="8" fill="#fff" stroke="#2a2a2a" stroke-width="0.8"/>
<path d="M1165 1554.2 A59.3 59.3 0 0 0 1224.3 1494.9" fill="none" stroke="#2a2a2a" stroke-width="1"/>
<rect x="1254.8" y="1494.9" width="2.6" height="33.1" fill="#fff" stroke="#2a2a2a" stroke-width="0.8"/>
<rect x="1256.8" y="1486.9" width="6.4" height="8" fill="#fff" stroke="#2a2a2a" stroke-width="0.8"/>
<path d="M1257.4 1528 A33.1 33.1 0 0 1 1224.3 1494.9" fill="none" stroke="#2a2a2a" stroke-width="1"/>
<rect x="1435.9" y="1605.8" width="2.6" height="27.3" fill="#fff" stroke="#2a2a2a" stroke-width="0.8"/>
<path d="M1435.9 1633.1 A27.3 27.3 0 0 0 1463.2 1605.8" fill="none" stroke="#2a2a2a" stroke-width="1"/>
<rect x="1509.4" y="1605.8" width="2.6" height="48.8" fill="#fff" stroke="#2a2a2a" stroke-width="0.8"/>
<path d="M1512 1654.6 A48.8 48.8 0 0 1 1463.2 1605.8" fill="none" stroke="#2a2a2a" stroke-width="1"/>
<rect x="2226.2" y="1413.4" width="2.6" height="33.3" fill="#fff" stroke="#2a2a2a" stroke-width="0.8"/>
<rect x="2220.4" y="1405.4" width="6.4" height="8" fill="#fff" stroke="#2a2a2a" stroke-width="0.8"/>
<path d="M2226.2 1446.7 A33.3 33.3 0 0 0 2259.5 1413.4" fill="none" stroke="#2a2a2a" stroke-width="1"/>
<rect x="2315.9" y="1413.4" width="2.6" height="59" fill="#fff" stroke="#2a2a2a" stroke-width="0.8"/>
<rect x="2317.9" y="1405.4" width="6.4" height="8" fill="#fff" stroke="#2a2a2a" stroke-width="0.8"/>
<path d="M2318.5 1472.4 A59 59 0 0 1 2259.5 1413.4" fill="none" stroke="#2a2a2a" stroke-width="1"/>
<rect x="1111" y="1596" width="324.9" height="9.8" fill="#fff" stroke="#2a2a2a" stroke-width="0.8"/>
<rect x="1512" y="1596" width="68.5" height="9.8" fill="#fff" stroke="#2a2a2a" stroke-width="0.8"/>
<line x1="1111" y1="1600.5" x2="1435.9" y2="1600.5" stroke="#2a2a2a" stroke-width="0.6"/>
<rect x="1829.7" y="1512.2" width="24.3" height="112.2" fill="#fff" stroke="#2a2a2a" stroke-width="0.9"/>
<rect x="1837.5" y="1514" width="8" height="100" fill="#fff" stroke="#2a2a2a" stroke-width="0.8"/>
<line x1="999.5" y1="633.9" x2="1070.7" y2="633.9" stroke="#2a2a2a" stroke-width="1"/>
<line x1="1128.7" y1="633.9" x2="1200.5" y2="633.9" stroke="#2a2a2a" stroke-width="1"/>
<line x1="999.5" y1="650" x2="1070.7" y2="650" stroke="#2a2a2a" stroke-width="1"/>
<line x1="1128.7" y1="650" x2="1200.5" y2="650" stroke="#2a2a2a" stroke-width="1"/>
<line x1="999.5" y1="667.7" x2="1070.7" y2="667.7" stroke="#2a2a2a" stroke-width="1"/>
<line x1="1128.7" y1="667.7" x2="1200.5" y2="667.7" stroke="#2a2a2a" stroke-width="1"/>
<line x1="999.5" y1="684.4" x2="1070.7" y2="684.4" stroke="#2a2a2a" stroke-width="1"/>
<line x1="1128.7" y1="684.4" x2="1200.5" y2="684.4" stroke="#2a2a2a" stroke-width="1"/>
<line x1="999.5" y1="701.5" x2="1070.7" y2="701.5" stroke="#2a2a2a" stroke-width="1"/>
<line x1="1128.7" y1="701.5" x2="1200.5" y2="701.5" stroke="#2a2a2a" stroke-width="1"/>
<line x1="999.5" y1="718.6" x2="1070.7" y2="718.6" stroke="#2a2a2a" stroke-width="1"/>
<line x1="1128.7" y1="718.6" x2="1200.5" y2="718.6" stroke="#2a2a2a" stroke-width="1"/>
<line x1="999.5" y1="735.3" x2="1070.7" y2="735.3" stroke="#2a2a2a" stroke-width="1"/>
<line x1="1128.7" y1="735.3" x2="1200.5" y2="735.3" stroke="#2a2a2a" stroke-width="1"/>
<path d="M1200.5 630.7 H1068.2 V754.6 H1132 V650 M1200.5 633.9 H1071.4 V751.4 H1128.8 V650" fill="none" stroke="#2a2a2a" stroke-width="0.9"/>
<line x1="1075.6" y1="754.6" x2="1075.6" y2="823.8" stroke="#2a2a2a" stroke-width="0.8"/>
<line x1="1092.6" y1="754.6" x2="1092.6" y2="823.8" stroke="#2a2a2a" stroke-width="0.8"/>
<line x1="1109.4" y1="754.6" x2="1109.4" y2="823.8" stroke="#2a2a2a" stroke-width="0.8"/>
<line x1="1126.4" y1="754.6" x2="1126.4" y2="823.8" stroke="#2a2a2a" stroke-width="0.8"/>
<path d="M1031.5 635 V788.4 H1164.1 V654.5" fill="none" stroke="#2a2a2a" stroke-width="0.9"/>
<circle cx="1164.1" cy="650" r="4.3" fill="none" stroke="#2a2a2a" stroke-width="0.9"/>
<path d="M1028 660 L1031.5 635 L1035 660" fill="none" stroke="#2a2a2a" stroke-width="0.9"/>
<line x1="1198.1" y1="1197" x2="1277" y2="1197" stroke="#2a2a2a" stroke-width="1"/>
<line x1="1198.1" y1="1216.6" x2="1277" y2="1216.6" stroke="#2a2a2a" stroke-width="1"/>
<line x1="1198.1" y1="1235.9" x2="1277" y2="1235.9" stroke="#2a2a2a" stroke-width="1"/>
<line x1="1198.1" y1="1255.2" x2="1277" y2="1255.2" stroke="#2a2a2a" stroke-width="1"/>
<line x1="1198.1" y1="1274.6" x2="1277" y2="1274.6" stroke="#2a2a2a" stroke-width="1"/>
<line x1="1198.1" y1="1293.9" x2="1277" y2="1293.9" stroke="#2a2a2a" stroke-width="1"/>
<line x1="1198.1" y1="1313.9" x2="1277" y2="1313.9" stroke="#2a2a2a" stroke-width="1"/>
<line x1="1198.1" y1="1333.2" x2="1277" y2="1333.2" stroke="#2a2a2a" stroke-width="1"/>
<line x1="1198.1" y1="1352.5" x2="1277" y2="1352.5" stroke="#2a2a2a" stroke-width="1"/>
<line x1="1198.1" y1="1372.4" x2="1277" y2="1372.4" stroke="#2a2a2a" stroke-width="1"/>
<line x1="1198.1" y1="1391.8" x2="1277" y2="1391.8" stroke="#2a2a2a" stroke-width="1"/>
<line x1="1108" y1="1197" x2="1186.8" y2="1197" stroke="#2a2a2a" stroke-width="1"/>
<line x1="1108" y1="1216.6" x2="1186.8" y2="1216.6" stroke="#2a2a2a" stroke-width="1"/>
<line x1="1108" y1="1235.9" x2="1186.8" y2="1235.9" stroke="#2a2a2a" stroke-width="1"/>
<line x1="1108" y1="1255.2" x2="1186.8" y2="1255.2" stroke="#2a2a2a" stroke-width="1"/>
<line x1="1108" y1="1274.6" x2="1186.8" y2="1274.6" stroke="#2a2a2a" stroke-width="1"/>
<line x1="1108" y1="1293.9" x2="1186.8" y2="1293.9" stroke="#2a2a2a" stroke-width="1"/>
<line x1="1108" y1="1313.9" x2="1186.8" y2="1313.9" stroke="#444" stroke-width="0.9" stroke-dasharray="6,4"/>
<line x1="1108" y1="1333.2" x2="1186.8" y2="1333.2" stroke="#444" stroke-width="0.9" stroke-dasharray="6,4"/>
<line x1="1108" y1="1352.5" x2="1186.8" y2="1352.5" stroke="#444" stroke-width="0.9" stroke-dasharray="6,4"/>
<line x1="1108" y1="1372.4" x2="1186.8" y2="1372.4" stroke="#444" stroke-width="0.9" stroke-dasharray="6,4"/>
<line x1="1108" y1="1391.8" x2="1186.8" y2="1391.8" stroke="#444" stroke-width="0.9" stroke-dasharray="6,4"/>
<rect x="1189" y="1198" width="5.3" height="193.8" fill="#fff" stroke="#2a2a2a" stroke-width="0.8"/>
<path d="M1108 1333.2 L1189 1259.1 M1108 1326.5 L1189 1252.4" fill="none" stroke="#2a2a2a" stroke-width="0.9"/>
<line x1="1146.6" y1="1201" x2="1146.6" y2="1300" stroke="#2a2a2a" stroke-width="0.8"/>
<line x1="1146.6" y1="1300" x2="1146.6" y2="1391.8" stroke="#444" stroke-width="0.8" stroke-dasharray="5,4"/>
<circle cx="1146.6" cy="1197" r="4.3" fill="none" stroke="#2a2a2a" stroke-width="0.9"/>
<line x1="1185" y1="1372.4" x2="1185" y2="1391.8" stroke="#444" stroke-width="0.8" stroke-dasharray="4,3"/>
<line x1="1288.6" y1="1504.5" x2="1288.6" y2="1596" stroke="#2a2a2a" stroke-width="0.9"/>
<line x1="1308.2" y1="1504.5" x2="1308.2" y2="1596" stroke="#2a2a2a" stroke-width="1.3"/>
<line x1="1328.1" y1="1504.5" x2="1328.1" y2="1596" stroke="#2a2a2a" stroke-width="0.9"/>
<line x1="1289" y1="1551.8" x2="1324" y2="1551.8" stroke="#2a2a2a" stroke-width="0.8"/>
<path d="M1304 1546 L1289 1551.8 L1304 1558" fill="none" stroke="#2a2a2a" stroke-width="0.9"/>
<circle cx="1328.1" cy="1551.8" r="4.3" fill="none" stroke="#2a2a2a" stroke-width="0.9"/>
<line x1="2179.4" y1="1218.2" x2="2357.2" y2="1218.2" stroke="#2a2a2a" stroke-width="0.9"/>
<line x1="2179.4" y1="1235.3" x2="2251.7" y2="1235.3" stroke="#2a2a2a" stroke-width="1"/>
<line x1="2285.3" y1="1235.3" x2="2357.2" y2="1235.3" stroke="#2a2a2a" stroke-width="1"/>
<line x1="2179.4" y1="1252.2" x2="2251.7" y2="1252.2" stroke="#2a2a2a" stroke-width="1"/>
<line x1="2285.3" y1="1252.2" x2="2357.2" y2="1252.2" stroke="#2a2a2a" stroke-width="1"/>
<line x1="2179.4" y1="1268.3" x2="2251.7" y2="1268.3" stroke="#2a2a2a" stroke-width="1"/>
<line x1="2285.3" y1="1268.3" x2="2357.2" y2="1268.3" stroke="#2a2a2a" stroke-width="1"/>
<line x1="2179.4" y1="1285.8" x2="2251.7" y2="1285.8" stroke="#2a2a2a" stroke-width="1"/>
<line x1="2285.3" y1="1285.8" x2="2357.2" y2="1285.8" stroke="#2a2a2a" stroke-width="1"/>
<line x1="2179.4" y1="1302.7" x2="2251.7" y2="1302.7" stroke="#2a2a2a" stroke-width="1"/>
<line x1="2285.3" y1="1302.7" x2="2357.2" y2="1302.7" stroke="#2a2a2a" stroke-width="1"/>
<line x1="2179.4" y1="1320.2" x2="2357.2" y2="1320.2" stroke="#2a2a2a" stroke-width="0.9"/>
<line x1="2179.4" y1="1322.9" x2="2288.7" y2="1322.9" stroke="#2a2a2a" stroke-width="0.8"/>
<rect x="2248.3" y="1214.5" width="40.4" height="108.4" fill="none" stroke="#2a2a2a" stroke-width="0.8"/>
<line x1="2251.7" y1="1128.6" x2="2251.7" y2="1302.7" stroke="#2a2a2a" stroke-width="0.9"/>
<line x1="2285.3" y1="1128.6" x2="2285.3" y2="1320.2" stroke="#2a2a2a" stroke-width="0.9"/>
<line x1="2268.5" y1="1128.6" x2="2268.5" y2="1218.2" stroke="#2a2a2a" stroke-width="1.2"/>
<path d="M2215.5 1302.7 V1181 H2321.4 V1320.2" fill="none" stroke="#2a2a2a" stroke-width="0.8"/>
<circle cx="2215.5" cy="1302.7" r="4.3" fill="none" stroke="#2a2a2a" stroke-width="0.9"/>
<path d="M2316.5 1288 L2321.4 1320.2 L2327 1288" fill="none" stroke="#2a2a2a" stroke-width="0.9"/>
<rect x="1295.4" y="1151.2" width="102.4" height="95.1" fill="none" stroke="#2a2a2a" stroke-width="0.9"/>
<line x1="1295.4" y1="1151.2" x2="1397.8" y2="1246.3" stroke="#2a2a2a" stroke-width="0.9"/>
<line x1="1397.8" y1="1151.2" x2="1295.4" y2="1246.3" stroke="#2a2a2a" stroke-width="0.9"/>
<line x1="1392" y1="1151.2" x2="1392" y2="1246.3" stroke="#2a2a2a" stroke-width="0.8"/>
<rect x="1295.4" y="1271.3" width="102.4" height="163.3" fill="none" stroke="#2a2a2a" stroke-width="0.9"/>
<line x1="1295.4" y1="1271.3" x2="1397.8" y2="1434.6" stroke="#2a2a2a" stroke-width="0.9"/>
<line x1="1397.8" y1="1271.3" x2="1295.4" y2="1434.6" stroke="#2a2a2a" stroke-width="0.9"/>
<line x1="1392" y1="1271.3" x2="1392" y2="1434.6" stroke="#2a2a2a" stroke-width="0.8"/>
<rect x="1507.1" y="827.7" width="50.1" height="50.3" fill="#fff" stroke="#2a2a2a" stroke-width="0.9"/>
<rect x="1510.1" y="830.7" width="44.1" height="44.3" fill="#fff" stroke="#2a2a2a" stroke-width="0.9" rx="5"/>
<circle cx="1548" cy="837.5" r="1.6" fill="none" stroke="#2a2a2a" stroke-width="0.8"/>
<path d="M1557.2 882 H1546.4 A19.2 19.2 0 0 0 1546.4 920.4 H1557.2" fill="#fff" stroke="#2a2a2a" stroke-width="0.9"/>
<path d="M1549.7 884.4 H1547.6 A16.6 16.6 0 0 0 1547.6 917.6 H1549.7 Z" fill="#fff" stroke="#2a2a2a" stroke-width="0.8"/>
<rect x="1538.4" y="899.4" width="15.9" height="3.2" rx="1.6" fill="#fff" stroke="#2a2a2a" stroke-width="0.8"/>
<line x1="1539.9" y1="901" x2="1547.3" y2="901" stroke="#555" stroke-width="1.4"/>
<path d="M1557.2 932.5 H1522 A8 8 0 0 0 1513.3 940.5 V949.5 A8 8 0 0 0 1522 957.5 H1557.2" fill="#fff" stroke="#2a2a2a" stroke-width="0.9"/>
<line x1="1542" y1="932.5" x2="1542" y2="957.5" stroke="#2a2a2a" stroke-width="0.8"/>
<line x1="1546" y1="932.5" x2="1546" y2="957.5" stroke="#2a2a2a" stroke-width="0.8"/>
<rect x="1004.3" y="1102.3" width="50.1" height="50.8" fill="#fff" stroke="#2a2a2a" stroke-width="0.9"/>
<rect x="1007.3" y="1105.3" width="44.1" height="44.8" fill="#fff" stroke="#2a2a2a" stroke-width="0.9" rx="5"/>
<circle cx="1044" cy="1142" r="1.6" fill="none" stroke="#2a2a2a" stroke-width="0.8"/>
<path d="M1054.4 1029.6 H1043 A18.9 18.9 0 0 0 1043 1067.4 H1054.4" fill="#fff" stroke="#2a2a2a" stroke-width="0.9"/>
<path d="M1047 1031.9 H1044.2 A16.9 16.9 0 0 0 1044.2 1065.8 H1047 Z" fill="#fff" stroke="#2a2a2a" stroke-width="0.8"/>
<rect x="1035.2" y="1047.4" width="16.8" height="3.2" rx="1.6" fill="#fff" stroke="#2a2a2a" stroke-width="0.8"/>
<line x1="1036.7" y1="1049" x2="1044.6" y2="1049" stroke="#555" stroke-width="1.4"/>
<path d="M965 1153.1 V1114 A7 7 0 0 1 972 1108 H983 A7 7 0 0 1 990 1114 V1153.1" fill="#fff" stroke="#2a2a2a" stroke-width="0.9"/>
<line x1="965" y1="1138" x2="990" y2="1138" stroke="#2a2a2a" stroke-width="0.8"/>
<line x1="965" y1="1142" x2="990" y2="1142" stroke="#2a2a2a" stroke-width="0.8"/>
<path d="M1204.8 1045.4 H1168 A7 7 0 0 0 1161.4 1052 V1063 A7 7 0 0 0 1168 1070 H1204.8" fill="#fff" stroke="#2a2a2a" stroke-width="0.9"/>
<line x1="1189" y1="1045.4" x2="1189" y2="1070" stroke="#2a2a2a" stroke-width="0.8"/>
<line x1="1193" y1="1045.4" x2="1193" y2="1070" stroke="#2a2a2a" stroke-width="0.8"/>
<path d="M1095.2 1104.9 V1093.3 A19 19 0 0 1 1133.3 1093.3 V1104.9" fill="#fff" stroke="#2a2a2a" stroke-width="0.9"/>
<path d="M1097.2 1096.9 V1093.8 A16.8 16.8 0 0 1 1130.8 1093.8 V1096.9 Z" fill="#fff" stroke="#2a2a2a" stroke-width="0.8"/>
<rect x="1112.6" y="1085.6" width="3.2" height="17.1" rx="1.6" fill="#fff" stroke="#2a2a2a" stroke-width="0.8"/>
<line x1="1114.2" y1="1087.1" x2="1114.2" y2="1095.2" stroke="#555" stroke-width="1.4"/>
<path d="M1900.2 803.9 H1937 A7 7 0 0 1 1944.3 811 V822 A7 7 0 0 1 1937 829.3 H1900.2" fill="#fff" stroke="#2a2a2a" stroke-width="0.9"/>
<line x1="1912" y1="803.9" x2="1912" y2="829.3" stroke="#2a2a2a" stroke-width="0.8"/>
<line x1="1916" y1="803.9" x2="1916" y2="829.3" stroke="#2a2a2a" stroke-width="0.8"/>
<path d="M1900.2 848.7 H1911.5 A19.3 19.3 0 0 1 1911.5 887.3 H1900.2" fill="#fff" stroke="#2a2a2a" stroke-width="0.9"/>
<path d="M1908.2 851.8 H1911.5 A16.2 16.2 0 0 1 1911.5 884.2 H1908.2 Z" fill="#fff" stroke="#2a2a2a" stroke-width="0.8"/>
<rect x="1903.5" y="866.2" width="16.5" height="3.2" rx="1.6" fill="#fff" stroke="#2a2a2a" stroke-width="0.8"/>
<line x1="1905" y1="867.8" x2="1912.8" y2="867.8" stroke="#555" stroke-width="1.4"/>
<rect x="1900.2" y="923" width="86.3" height="50" fill="#fff" stroke="#2a2a2a" stroke-width="0.9"/>
<rect x="1903.2" y="926" width="80.3" height="44" fill="#fff" stroke="#2a2a2a" stroke-width="0.9" rx="6"/>
<circle cx="1911" cy="959" r="1.6" fill="none" stroke="#2a2a2a" stroke-width="0.8"/>
<text x="1346.5" y="753" font-family="Liberation Sans, sans-serif" font-weight="bold" font-size="31" fill="#4b4b4d" textLength="68.2" lengthAdjust="spacingAndGlyphs">30,3</text>
<text x="1466" y="918.8" font-family="Liberation Sans, sans-serif" font-weight="bold" font-size="31" fill="#4b4b4d" textLength="47.7" lengthAdjust="spacingAndGlyphs">3,4</text>
<text x="1946" y="861.7" font-family="Liberation Sans, sans-serif" font-weight="bold" font-size="31" fill="#4b4b4d" textLength="48.9" lengthAdjust="spacingAndGlyphs">4,5</text>
<text x="2138.4" y="993.3" font-family="Liberation Sans, sans-serif" font-weight="bold" font-size="31" fill="#4b4b4d" textLength="58.5" lengthAdjust="spacingAndGlyphs">71,6</text>
<text x="931.8" y="1079" font-family="Liberation Sans, sans-serif" font-weight="bold" font-size="31" fill="#4b4b4d" textLength="48.6" lengthAdjust="spacingAndGlyphs">4,4</text>
<text x="1086.5" y="1061.5" font-family="Liberation Sans, sans-serif" font-weight="bold" font-size="31" fill="#4b4b4d" textLength="46" lengthAdjust="spacingAndGlyphs">2,7</text>
<text x="876.9" y="1319.6" font-family="Liberation Sans, sans-serif" font-weight="bold" font-size="31" fill="#4b4b4d" textLength="57.6" lengthAdjust="spacingAndGlyphs">99,1</text>
<rect x="288" y="263" width="427" height="101.5" rx="50.75" fill="#80c241"/>
<text x="325.8" y="328.5" font-family="Liberation Sans, sans-serif" font-size="49.5" fill="#fff" stroke="#80c241" stroke-width="0.5" textLength="131.7" lengthAdjust="spacingAndGlyphs">План</text>
<path d="M469.2 302.2 L477.2 294.4 H481.6 V328.5 H477 V300.6 L471.8 305.6 Z" fill="#fff"/>
<text x="499" y="328.5" font-family="Liberation Sans, sans-serif" font-size="49.5" fill="#fff" stroke="#80c241" stroke-width="0.5" textLength="160.3" lengthAdjust="spacingAndGlyphs">этажа</text>
<line x1="1013.2" y1="262.3" x2="1927.4" y2="262.3" stroke="#9b9b9b" stroke-width="1.6"/>
<line x1="1013.2" y1="338.8" x2="1927.4" y2="338.8" stroke="#9b9b9b" stroke-width="1.6"/>
<text x="1441" y="314.1" font-family="Liberation Sans, sans-serif" font-size="46.5" fill="#4b4b4d" stroke="#4b4b4d" stroke-width="0.7" text-anchor="middle" textLength="249" lengthAdjust="spacingAndGlyphs">ул. Батова</text>
<line x1="1013.2" y1="1921.2" x2="1927.4" y2="1921.2" stroke="#9b9b9b" stroke-width="1.6"/>
<line x1="1013.2" y1="1997.9" x2="1927.4" y2="1997.9" stroke="#9b9b9b" stroke-width="1.6"/>
<text x="1441" y="1974.1" font-family="Liberation Sans, sans-serif" font-size="46.5" fill="#4b4b4d" stroke="#4b4b4d" stroke-width="0.7" text-anchor="middle" textLength="262" lengthAdjust="spacingAndGlyphs">ул. Панина</text>
<line x1="285.4" y1="633.3" x2="285.4" y2="1547.8" stroke="#555" stroke-width="1.2"/>
<line x1="361.6" y1="633.3" x2="361.6" y2="1547.8" stroke="#555" stroke-width="1.2"/>
<text transform="translate(336.7 1129.6) rotate(-90)" x="0" y="0" font-family="Liberation Sans, sans-serif" font-size="45.8" fill="#4b4b4d" text-anchor="middle" textLength="450" lengthAdjust="spacingAndGlyphs">Тутаевское шоссе</text>
<line x1="2513.6" y1="633.8" x2="2513.6" y2="1547.8" stroke="#555" stroke-width="1.2"/>
<line x1="2589.2" y1="633.8" x2="2589.2" y2="1547.8" stroke="#555" stroke-width="1.2"/>
<text transform="translate(2565.3 1122.4) rotate(-90)" x="0" y="0" font-family="Liberation Sans, sans-serif" font-size="45.8" fill="#4b4b4d" text-anchor="middle" textLength="588" lengthAdjust="spacingAndGlyphs">Брагинский 2-й проезд</text>
<circle cx="447.9" cy="1834.3" r="164.4" fill="none" stroke="#d3d3d3" stroke-width="3.2" stroke-dasharray="14,11"/>
<path d="M329.6 1720.2 A164.4 164.4 0 1 1 562.1 1952.6" fill="none" stroke="#fff" stroke-width="5"/>
<path d="M329.6 1720.2 A164.4 164.4 0 1 1 562.1 1952.6" fill="none" stroke="#f29d1f" stroke-width="3.2" stroke-dasharray="14,11"/>
<path d="M561.6 1934.5 L561.6 1951.5 M561.6 1951.5 L578.6 1951.5" stroke="#f29d1f" stroke-width="3.2" fill="none"/>
<circle cx="333.1" cy="1723.6" r="29.3" fill="#e9e9ea"/>
<circle cx="333.1" cy="1723.6" r="8.6" fill="#f29d1f"/>
<line x1="344.6" y1="1723.6" x2="351.1" y2="1723.6" stroke="#f29d1f" stroke-width="2"/>
<line x1="341.2" y1="1731.7" x2="345.8" y2="1736.3" stroke="#f29d1f" stroke-width="2"/>
<line x1="333.1" y1="1735.1" x2="333.1" y2="1741.6" stroke="#f29d1f" stroke-width="2"/>
<line x1="325" y1="1731.7" x2="320.4" y2="1736.3" stroke="#f29d1f" stroke-width="2"/>
<line x1="321.6" y1="1723.6" x2="315.1" y2="1723.6" stroke="#f29d1f" stroke-width="2"/>
<line x1="325" y1="1715.5" x2="320.4" y2="1710.9" stroke="#f29d1f" stroke-width="2"/>
<line x1="333.1" y1="1712.1" x2="333.1" y2="1705.6" stroke="#f29d1f" stroke-width="2"/>
<line x1="341.2" y1="1715.5" x2="345.8" y2="1710.9" stroke="#f29d1f" stroke-width="2"/>
<circle cx="445.1" cy="1840.7" r="66" fill="none" stroke="#222" stroke-width="2.4"/>
<line x1="445.1" y1="1840.7" x2="400.9" y2="1887.5" stroke="#222" stroke-width="2.4"/>
<text transform="translate(377.9 1775.8) rotate(-45)" x="0" y="12.5" font-family="Liberation Sans, sans-serif" font-size="36" fill="#111" text-anchor="middle">В</text>
<text transform="translate(512.3 1767.4) rotate(-45)" x="0" y="12.5" font-family="Liberation Sans, sans-serif" font-size="36" fill="#111" text-anchor="middle">Ю</text>
<text transform="translate(381.6 1908.1) rotate(-45)" x="0" y="12.5" font-family="Liberation Sans, sans-serif" font-size="36" fill="#111" text-anchor="middle">С</text>
<text transform="translate(515.4 1901.8) rotate(-45)" x="0" y="12.5" font-family="Liberation Sans, sans-serif" font-size="36" fill="#111" text-anchor="middle">З</text>
<polygon points="2434.8,1703.5 2487,1698.5 2487.6,1701.9 2496.9,1701.1 2496.9,1697.9 2528.4,1694.9 2529,1699.3 2538.7,1698.3 2538.7,1693.9 2562.8,1691.5 2563.2,1694.9 2576.1,1694.3 2578.5,1716.8 2572.1,1717.8 2573.5,1737.3 2570.1,1737.7 2570.1,1745.7 2543.3,1745.7 2543.3,1741.3 2534.9,1742.1 2535.3,1745.3 2492.5,1747.7 2491.9,1743.7 2483.6,1744.3 2483.2,1748.3 2439.2,1751.2 2437.8,1740.7 2433.8,1739.7 2431.8,1715.4 2435.8,1714.8" fill="#e4e5e6" stroke="#222" stroke-width="0.8"/>
<polygon points="2544.3,1746.3 2589.4,1746.3 2589.4,1768 2590.4,1768 2590.4,1796.4 2585.5,1796.4 2585.5,1804.4 2590.4,1804.4 2590.4,1833.2 2544.3,1833.2 2544.3,1799 2539.3,1799 2539.3,1797 2544.3,1797 2544.3,1775 2539.3,1775 2539.3,1773 2544.3,1773" fill="#e4e5e6" stroke="#222" stroke-width="0.8"/>
<polygon points="2544.3,1833.2 2590.4,1833.2 2590.4,1855.5 2590.4,1884.4 2585.5,1884.4 2585.5,1891.5 2590.4,1891.5 2590.4,1920.4 2548.3,1920.4 2548.3,1912 2544.3,1912 2544.3,1885.5 2539.3,1885.5 2539.3,1884 2544.3,1884 2544.3,1862 2539.3,1862 2539.3,1860 2544.3,1860" fill="#80c241" stroke="#222" stroke-width="0.8"/>
<polygon points="2544.3,1920.4 2586.1,1920.4 2586.1,1931 2590.4,1931 2590.4,1933 2586.1,1933 2586.1,1947.5 2590.4,1947.5 2590.4,1958.5 2586.1,1958.5 2586.1,1997 2571.1,1997 2571.1,1992.4 2521.4,1992.4 2521.4,1945.1 2544.3,1945.1" fill="#e4e5e6" stroke="#222" stroke-width="0.8"/>
</svg>
</body></html>
